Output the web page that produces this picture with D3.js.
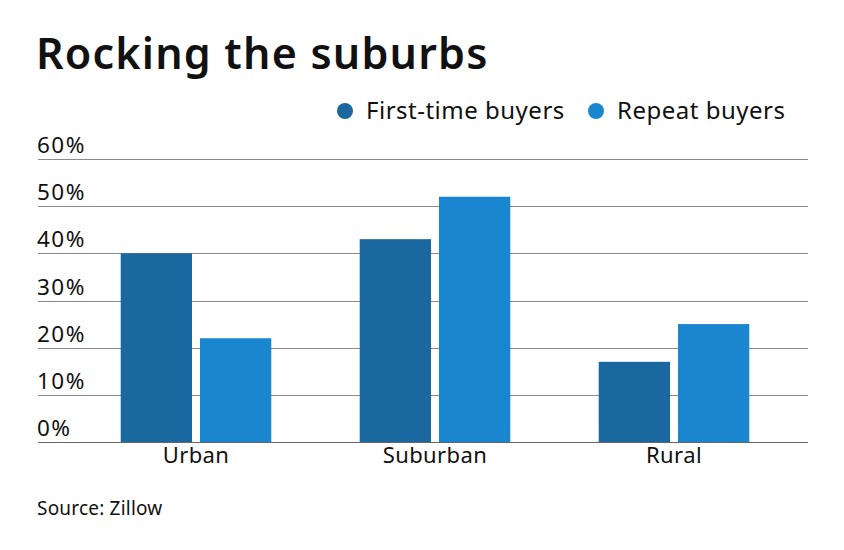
<!DOCTYPE html>
<html>
<head>
<meta charset="utf-8">
<script src="https://cdn.jsdelivr.net/npm/d3@7"></script>
<style>
  html, body { margin: 0; padding: 0; background: #fff; }
  svg text { font-family: "Noto Sans", Lato, sans-serif; fill: #111; }
</style>
</head>
<body>
<svg id="chart" width="844" height="550"></svg>
<script>
const categories = ["Urban", "Suburban", "Rural"];
const seriesNames = ["First-time buyers", "Repeat buyers"];
const firstTime = [40, 43, 17];
const repeat = [22, 52, 25];
const yTicks = [0, 10, 20, 30, 40, 50, 60];
const colors = ["#1b679f", "#1b86d0"];

const svg = d3.select("#chart");

// Title
svg.append("text").attr("x", 36).attr("y", 69)
  .attr("font-size", 43).attr("font-weight", 600)
  .attr("letter-spacing", 1.2)
  .text("Rocking the suburbs");

// Scales
const y = d3.scaleLinear().domain([0, 60]).range([442, 159]);
const x0 = d3.scaleBand().domain(categories).range([76.5, 793.5])
  .paddingInner(0.37).paddingOuter(0.185);
const x1 = d3.scaleBand().domain(seriesNames).range([0, x0.bandwidth()])
  .paddingInner(0.101).paddingOuter(0);
const color = d3.scaleOrdinal().domain(seriesNames).range(colors);

// Gridlines + y labels
const grid = svg.append("g");
grid.selectAll("line").data(yTicks).join("line")
  .attr("x1", 38).attr("x2", 808)
  .attr("y1", d => Math.round(y(d)) + 0.5).attr("y2", d => Math.round(y(d)) + 0.5)
  .attr("stroke", d => d === 0 ? "#666" : "#8a8a8a").attr("stroke-width", 1);
grid.selectAll("text").data(yTicks).join("text")
  .attr("x", 37).attr("y", d => y(d) - 6)
  .attr("font-size", 22.5).attr("letter-spacing", 1.5)
  .text(d => d + "%");

// Bars
const data = categories.map((c, i) => ({ cat: c, vals: [
  { key: seriesNames[0], v: firstTime[i] },
  { key: seriesNames[1], v: repeat[i] }
]}));
const groups = svg.append("g").selectAll("g").data(data).join("g")
  .attr("transform", d => `translate(${x0(d.cat)},0)`);
groups.selectAll("rect").data(d => d.vals).join("rect")
  .attr("x", d => x1(d.key)).attr("width", x1.bandwidth())
  .attr("y", d => y(d.v)).attr("height", d => y(0) - y(d.v))
  .attr("fill", d => color(d.key));

// X axis labels
const xAxis = d3.axisBottom(x0).tickSize(0).tickPadding(0);
const xg = svg.append("g").attr("transform", `translate(0,${y(0)})`).call(xAxis);
xg.select(".domain").remove();
xg.selectAll("text").attr("font-size", 22).attr("dy", null).attr("y", 21)
  .attr("letter-spacing", 0.4)
  .style("font-family", "'Noto Sans', Lato, sans-serif").attr("fill", "#111");

// Legend
const legend = svg.append("g");
const legX = [345, 596];
seriesNames.forEach((s, i) => {
  legend.append("circle").attr("cx", legX[i]).attr("cy", 111).attr("r", 8).attr("fill", colors[i]);
  legend.append("text").attr("x", legX[i] + 21).attr("y", 119)
    .attr("font-size", 24).attr("letter-spacing", 0.5).text(s);
});

// Source
svg.append("text").attr("x", 37).attr("y", 515).attr("font-size", 19)
  .attr("letter-spacing", 0.2).text("Source: Zillow");
</script>
</body>
</html>
